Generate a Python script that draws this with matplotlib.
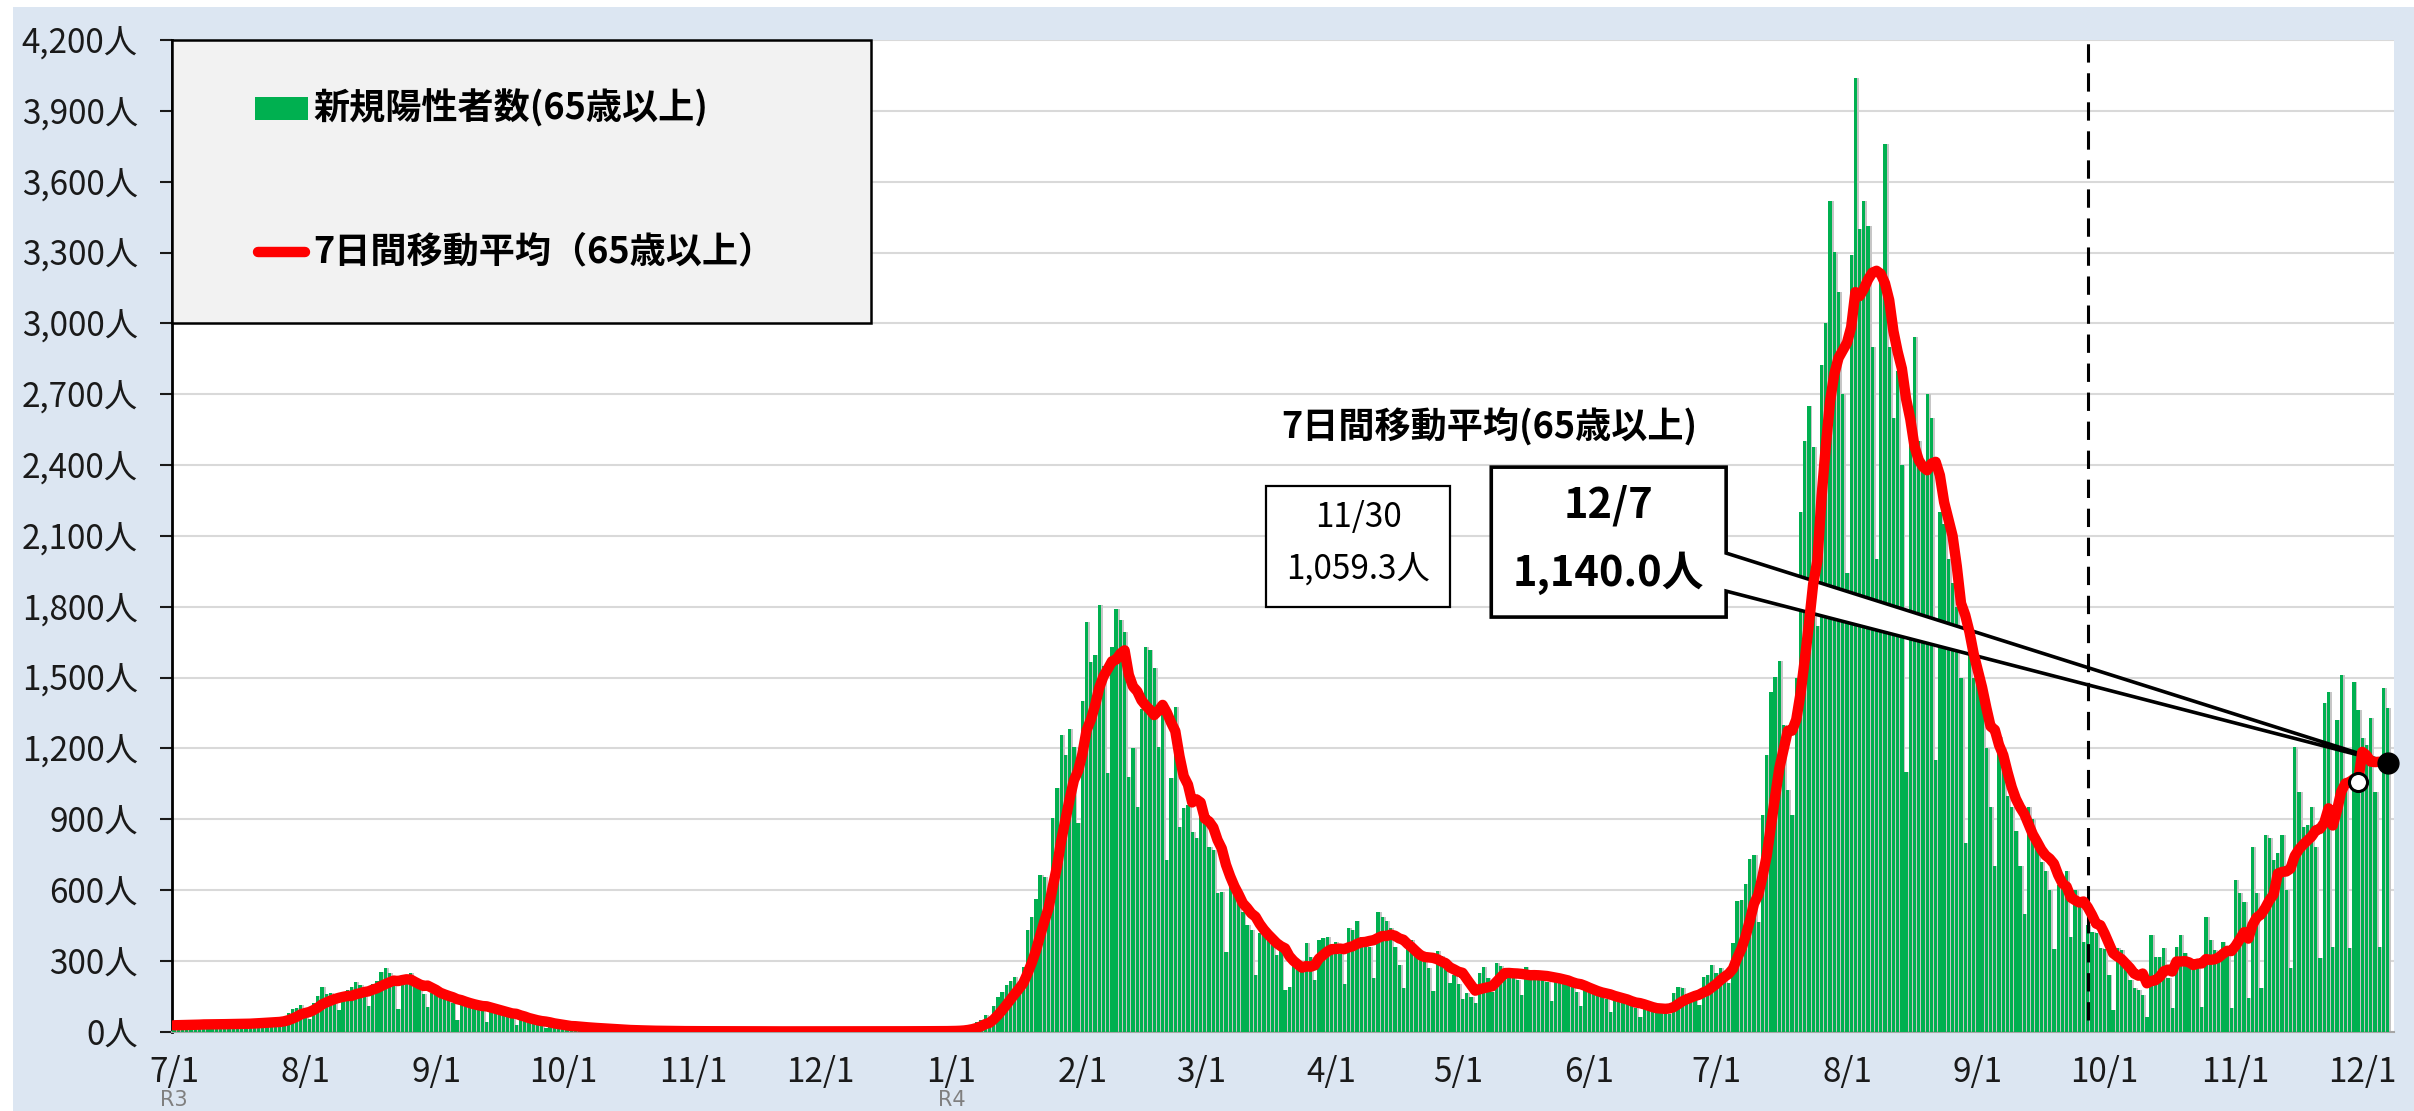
import matplotlib
matplotlib.use('Agg')
import matplotlib.pyplot as plt
import matplotlib.transforms as mtransforms
from matplotlib.patches import Rectangle, Polygon
from matplotlib.lines import Line2D
import numpy as np
import pandas as pd

plt.rcParams['font.family'] = ['Noto Sans CJK JP', 'DejaVu Sans']

# ---------------- data: daily new positives aged 65+ ----------------
pre21 = [30, 28, 22, 14, 32, 34]  # 6/25-6/30 (only used for the 7-day average)
jul21 = [30, 33, 31, 27, 15, 35, 38, 36, 34, 33, 28, 16, 38, 40, 38, 37, 36, 30, 18, 44, 46,
         47, 45, 42, 40, 25, 62, 78, 95, 100, 113]
aug21 = [80, 55, 120, 150, 189, 160, 165, 130, 90, 150, 175, 190, 210, 196, 165, 110, 200, 216,
         254, 270, 250, 215, 96, 230, 238, 248, 200, 185, 160, 106, 165]
sep21 = [175, 165, 150, 140, 120, 50, 135, 130, 125, 115, 110, 95, 42, 100, 95, 90, 80, 75, 60,
         30, 55, 60, 45, 48, 42, 35, 15, 32, 30, 25]
oct21 = [25, 22, 18, 10, 20, 18, 16, 15, 14, 10, 5, 10, 9, 8, 7, 6, 5, 2, 5, 5, 4, 4, 3, 3, 1,
         3, 3, 3, 2, 2, 2]
nov21 = [1, 3, 2, 2, 2, 2, 1, 1, 3, 2, 2, 2, 1, 1, 1, 2, 2, 1, 2, 1, 1, 0, 2, 2, 2, 1, 2, 1, 0, 2]
dec21 = [2, 2, 1, 2, 1, 1, 0, 2, 2, 1, 2, 2, 1, 1, 1, 3, 2, 2, 2, 1, 1, 2, 3, 3, 2, 2, 1, 1, 2, 4, 5]
jan22 = [4, 5, 6, 10, 18, 28, 40, 50, 71, 45, 110, 147, 170, 198, 215, 233, 200, 274, 430, 486,
         560, 663, 654, 600, 905, 1031, 1256, 1172, 1282, 1207, 882]
feb22 = [1400, 1737, 1567, 1595, 1807, 1549, 1094, 1631, 1789, 1743, 1694, 1080, 1200, 953,
         1367, 1631, 1617, 1539, 1207, 1374, 727, 1073, 1376, 868, 946, 960, 847, 819]
mar22 = [981, 896, 783, 769, 589, 593, 339, 635, 600, 543, 508, 452, 431, 240, 420, 430, 400,
         380, 325, 340, 176, 190, 289, 296, 282, 374, 318, 219, 388, 395, 402]
apr22 = [350, 380, 330, 202, 440, 430, 469, 400, 390, 360, 226, 505, 487, 470, 440, 357, 282,
         184, 381, 388, 350, 330, 300, 268, 172, 342, 320, 300, 205, 240]
may22 = [200, 138, 162, 148, 123, 247, 272, 226, 167, 292, 280, 254, 250, 262, 220, 155, 272,
         261, 257, 245, 250, 210, 131, 247, 240, 226, 215, 200, 170, 110, 200]
jun22 = [184, 175, 165, 160, 140, 82, 155, 148, 141, 130, 110, 99, 64, 120, 106, 100, 98, 100,
         90, 75, 162, 188, 184, 160, 150, 140, 113, 230, 240, 282]
jul22 = [250, 270, 240, 205, 377, 555, 557, 624, 731, 749, 464, 917, 1171, 1437, 1504, 1571,
         1300, 1024, 917, 1500, 2200, 2500, 2651, 2478, 1718, 2824, 3000, 3518, 3304, 3131, 2700]
aug22 = [1944, 3291, 4038, 3400, 3518, 3411, 2900, 2000, 3200, 3758, 2900, 2600, 2800, 2400,
         1100, 2600, 2944, 2500, 2400, 2700, 2600, 1150, 2200, 2150, 2000, 1900, 1800, 1500,
         800, 1700, 1500]
sep22 = [1500, 1400, 1200, 950, 700, 1250, 1200, 1000, 950, 850, 700, 500, 950, 900, 780, 720,
         680, 600, 350, 620, 650, 680, 400, 600, 530, 380, 450, 424, 420, 353]
oct22 = [349, 240, 92, 353, 346, 290, 219, 184, 177, 155, 64, 409, 318, 315, 353, 226, 99, 360,
         409, 332, 275, 275, 268, 106, 487, 388, 346, 330, 381, 360, 99]
nov22 = [642, 586, 551, 141, 783, 586, 184, 833, 819, 727, 755, 833, 600, 268, 1207, 1016, 868,
         876, 953, 783, 311, 1391, 1440, 360, 1320, 1511, 1027, 353, 1482, 1362]
dec22 = [1242, 1214, 1327, 1014, 360, 1454, 1369]

start_date = '2021-07-01'
y_ticks = list(range(0, 4201, 300))
era_labels = [('2021-07-01', 'R3'), ('2022-01-01', 'R4')]
legend_bar = '新規陽性者数(65歳以上)'
legend_line = '7日間移動平均（65歳以上）'
note_title = '7日間移動平均(65歳以上)'
prev_date, prev_label = '2022-11-30', '11/30'
last_date, last_label = '2022-12-07', '12/7'
split_date = '2022-09-27'

daily = np.array(jul21 + aug21 + sep21 + oct21 + nov21 + dec21 + jan22 + feb22 + mar22 +
                 apr22 + may22 + jun22 + jul22 + aug22 + sep22 + oct22 + nov22 + dec22, float)
dates = pd.date_range(start_date, periods=len(daily), freq='D')
# 7-day trailing moving average of the daily counts
ma = pd.Series(pre21 + list(daily)).rolling(7).mean().to_numpy()[len(pre21):]

# ---------------- figure ----------------
W, H = 2414, 1111
fig = plt.figure(figsize=(W / 100, H / 100), dpi=100)
fig.patch.set_facecolor('white')
fig.patches.append(Rectangle((13 / W, 0), 1 - 13 / W, 1 - 7 / H, transform=fig.transFigure,
                             facecolor='#DCE6F2', edgecolor='none', zorder=-10))
ax = fig.add_axes([172 / W, (H - 1031.7) / H, (2394 - 172) / W, (1031.7 - 40) / H])
ax.set_facecolor('white')

x = np.arange(len(daily))
ax.bar(x + 0.45, daily, width=0.78, color='#C6C6C6', linewidth=0, zorder=2)
ax.bar(x, daily, width=0.78, color='#00B050', linewidth=0, zorder=3)
ax.plot(x, ma, color='#FF0000', lw=7.5, zorder=6, solid_joinstyle='round',
        solid_capstyle='round')

ax.set_xlim(-0.5, len(daily) + 0.5)
ax.set_ylim(0, 4200)
ax.set_yticks(y_ticks)
ax.set_yticklabels([f'{v:,}人' for v in y_ticks])
ax.yaxis.grid(True, color='#D9D9D9', lw=1.5)
ax.set_axisbelow(True)

month_starts = np.where(dates.day == 1)[0]
ax.set_xticks(month_starts)
ax.set_xticklabels([f'{d.month}/{d.day}' for d in dates[month_starts]])
ax.tick_params(axis='x', length=0, pad=17, labelsize=24, colors='#1a1a1a')
ax.tick_params(axis='y', length=8.5, width=1.5, pad=16, labelsize=24, direction='out',
               colors='#1a1a1a')
for s in ['top', 'right']:
    ax.spines[s].set_visible(False)
ax.spines['left'].set_color('black')
ax.spines['left'].set_linewidth(2)
ax.spines['bottom'].set_color('#A6A6A6')
ax.spines['bottom'].set_linewidth(1.5)

# era labels below the first tick of each year, kept inside the figure
trans = mtransforms.blended_transform_factory(ax.transData, fig.transFigure)
for d, lab in era_labels:
    ax.text(dates.get_loc(pd.Timestamp(d)), 0.5 / H, lab, transform=trans, ha='center',
            va='bottom', fontsize=15, color='#7F7F7F', clip_on=False,
            family=['DejaVu Sans'])

# legend box
ax.add_patch(Rectangle((0, 0.7146), 0.3146, 0.2854, transform=ax.transAxes,
                       facecolor='#F2F2F2', edgecolor='black', lw=1.8, zorder=7,
                       clip_on=False))
ax.add_patch(Rectangle((0.0374, 0.9195), 0.0238, 0.0232, transform=ax.transAxes,
                       facecolor='#00B050', edgecolor='none', zorder=8))
ax.text(0.0635, 0.931, legend_bar, transform=ax.transAxes, fontsize=26, fontweight='bold',
        va='center', ha='left', zorder=8)
ax.add_line(Line2D([0.0385, 0.060], [0.786, 0.786], transform=ax.transAxes, color='#FF0000',
                   lw=7.5, solid_capstyle='round', zorder=8))
ax.text(0.0635, 0.786, legend_line, transform=ax.transAxes, fontsize=26, fontweight='bold',
        va='center', ha='left', zorder=8)

# dashed separator
ax.vlines(dates.get_loc(pd.Timestamp(split_date)), 50, 4200, colors='black',
          linestyles=(0, (6, 3.5)), lw=2.2, zorder=5.5)

# annotations
i_prev = dates.get_loc(pd.Timestamp(prev_date))
i_last = dates.get_loc(pd.Timestamp(last_date))
ax.text(311.3, 2560, note_title, fontsize=26, fontweight='bold', ha='center', va='center',
        zorder=9)
ax.add_patch(Rectangle((258.5, 1798), 302.1 - 258.5, 2311 - 1798, facecolor='white',
                       edgecolor='black', lw=1.6, zorder=7))
ax.text(280.3, 2179, prev_label, fontsize=24, ha='center', va='center', zorder=9)
ax.text(280.3, 1955, f'{ma[i_prev]:,.1f}人', fontsize=24, ha='center', va='center', zorder=9)

callout = Polygon([(311.8, 2391), (367.4, 2391), (367.4, 2027), (i_last, ma[i_last]),
                   (367.4, 1866), (367.4, 1756), (311.8, 1756)], closed=True,
                  facecolor='white', edgecolor='black', lw=2.6, joinstyle='miter', zorder=5)
ax.add_patch(callout)
ax.text(339.6, 2230, last_label, fontsize=30, fontweight='bold', ha='center', va='center',
        zorder=9)
ax.text(339.6, 1942, f'{ma[i_last]:,.1f}人', fontsize=30, fontweight='bold', ha='center',
        va='center', zorder=9)

ax.plot([i_prev], [ma[i_prev]], 'o', ms=13, mfc='white', mec='black', mew=2.2, zorder=8)
ax.plot([i_last], [ma[i_last]], 'o', ms=15, color='black', zorder=8, clip_on=False)

fig.savefig('out.png', dpi=100, facecolor=fig.get_facecolor())
